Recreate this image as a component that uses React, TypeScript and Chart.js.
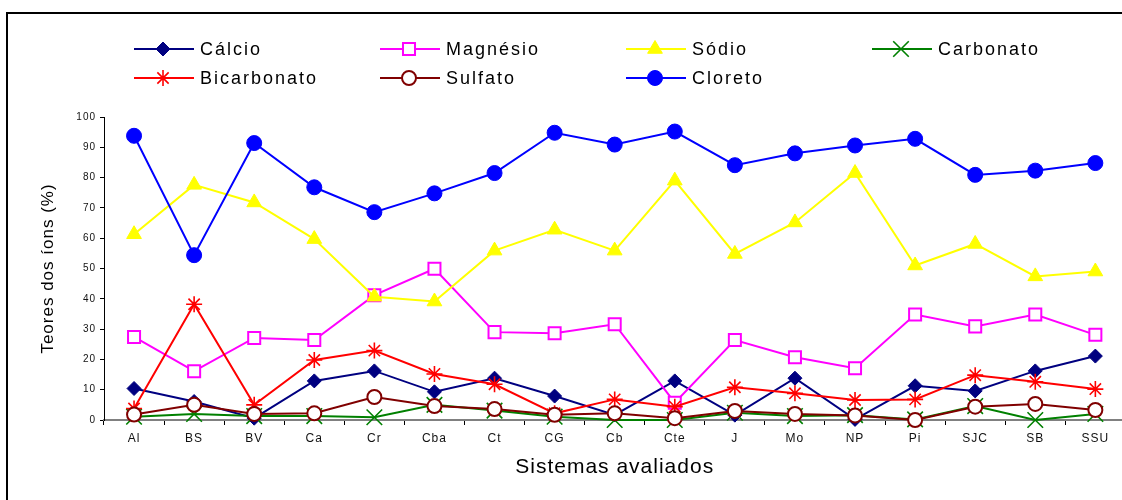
import React, { useEffect, useRef } from "react";
import { Chart, registerables } from "chart.js";
import { drawPoint } from "chart.js/helpers";

Chart.register(...registerables);

const categories = ["Al", "BS", "BV", "Ca", "Cr", "Cba", "Ct", "CG", "Cb", "Cte", "J", "Mo", "NP", "Pi", "SJC", "SB", "SSU"];
const calcio = [10.4, 6.1, 0.6, 12.9, 16.2, 9.3, 13.8, 7.9, 1.7, 12.9, 1.6, 13.8, 0.2, 11.3, 9.6, 16.2, 21.1];
const magnesio = [27.4, 16.1, 27.1, 26.4, 41.2, 49.9, 29.0, 28.6, 31.6, 5.7, 26.4, 20.7, 17.1, 34.8, 30.9, 34.8, 28.1];
const sodio = [61.3, 77.6, 71.8, 59.7, 40.7, 39.1, 55.9, 62.8, 55.9, 79.0, 54.8, 65.2, 81.5, 51.0, 58.1, 47.4, 49.0];
const carbonato = [1.1, 2.0, 1.3, 1.3, 0.9, 5.0, 3.1, 1.1, 0, 0, 2.4, 1.3, 1.6, 0.2, 4.6, 0, 2.0];
const bicarbonato = [3.8, 38.2, 5.0, 19.8, 22.9, 15.2, 11.8, 2.2, 6.8, 4.4, 10.8, 8.8, 6.6, 6.8, 14.8, 12.6, 10.2];
const sulfato = [1.8, 5.0, 2.0, 2.2, 7.6, 4.6, 3.6, 1.7, 2.2, 0.6, 3.0, 2.0, 1.5, 0, 4.4, 5.3, 3.3];
const cloreto = [93.8, 54.4, 91.4, 76.8, 68.6, 74.8, 81.5, 94.8, 90.9, 95.2, 84.1, 88.0, 90.6, 92.8, 80.9, 82.3, 84.8];

const seriesNames = ["Cálcio", "Magnésio", "Sódio", "Carbonato", "Bicarbonato", "Sulfato", "Cloreto"];
const seriesData = [calcio, magnesio, sodio, carbonato, bicarbonato, sulfato, cloreto];
const yTitle = "Teores dos íons (%)";
const xTitle = "Sistemas avaliados";

const styles = [
  { color: "#000080", pointStyle: "rectRot", radius: 7, bg: "#000080", bw: 1 },
  { color: "#FF00FF", pointStyle: "rect", radius: 8.5, bg: "#FFFFFF", bw: 2 },
  { color: "#FFFF00", pointStyle: "triangle", radius: 8.5, bg: "#FFFF00", bw: 1 },
  { color: "#008000", pointStyle: "crossRot", radius: 11, bg: "#008000", bw: 1.6 },
  { color: "#FF0000", pointStyle: "star", radius: 8, bg: "#FF0000", bw: 1.6 },
  { color: "#800000", pointStyle: "circle", radius: 7, bg: "#FFFFFF", bw: 2 },
  { color: "#0000FF", pointStyle: "circle", radius: 7.5, bg: "#0000FF", bw: 1 },
];

const FONT = "'Liberation Sans', Arial, Helvetica, sans-serif";
const CANVAS_W = 1138;

const framePlugin = {
  id: "frame",
  beforeDraw(chart: any) {
    const ctx = chart.ctx;
    ctx.letterSpacing = "1px";
    ctx.save();
    ctx.fillStyle = "#FFFFFF";
    ctx.fillRect(0, 0, chart.width, chart.height);
    ctx.strokeStyle = "#000000";
    ctx.lineWidth = 2;
    ctx.beginPath();
    ctx.moveTo(7, chart.height + 5);
    ctx.lineTo(7, 13);
    ctx.lineTo(chart.width + 5, 13);
    ctx.stroke();
    ctx.restore();
  },
};

const legendPlugin = {
  id: "customLegend",
  afterDraw(chart: any) {
    const ctx = chart.ctx;
    ctx.save();
    ctx.letterSpacing = "2px";
    ctx.font = `18px ${FONT}`;
    ctx.textBaseline = "middle";
    ctx.textAlign = "left";
    chart.data.datasets.forEach((ds: any, i: number) => {
      const col = i % 4;
      const row = Math.floor(i / 4);
      const x0 = 134 + col * 246;
      const y = 49 + row * 29;
      ctx.strokeStyle = ds.borderColor;
      ctx.lineWidth = 2;
      ctx.beginPath();
      ctx.moveTo(x0, y);
      ctx.lineTo(x0 + 60, y);
      ctx.stroke();
      ctx.fillStyle = ds.pointBackgroundColor;
      ctx.strokeStyle = ds.borderColor;
      ctx.lineWidth = ds.pointBorderWidth;
      drawPoint(ctx, { pointStyle: ds.pointStyle, radius: ds.pointRadius, rotation: 0, borderWidth: ds.pointBorderWidth }, x0 + 29, y);
      ctx.fillStyle = "#000000";
      ctx.fillText(ds.label, x0 + 66, y + 1);
    });
    ctx.restore();
  },
};

export default function App() {
  const ref = useRef<HTMLCanvasElement | null>(null);

  useEffect(() => {
    if (!ref.current) return;
    const datasets = seriesNames.map((name, i) => ({
      label: name,
      data: seriesData[i],
      borderColor: styles[i].color,
      backgroundColor: styles[i].bg,
      pointBackgroundColor: styles[i].bg,
      pointBorderColor: styles[i].color,
      pointStyle: styles[i].pointStyle,
      pointRadius: styles[i].radius,
      pointBorderWidth: styles[i].bw,
      borderWidth: 2,
      tension: 0,
      fill: false,
      clip: false,
      order: 6 - i,
    }));
    const chart = new Chart(ref.current, {
      type: "line",
      data: { labels: categories, datasets },
      options: {
        animation: false,
        responsive: false,
        devicePixelRatio: 1,
        layout: { padding: { top: 117, left: 0, right: 0, bottom: 0 } },
        plugins: {
          legend: { display: false },
          title: { display: false },
          tooltip: { enabled: false },
        },
        scales: {
          x: {
            type: "category",
            offset: true,
            afterFit: (scale: any) => {
              scale.height = 80;
            },
            grid: {
              display: true,
              drawOnChartArea: false,
              drawTicks: true,
              tickLength: 5,
              offset: true,
              color: "#000000",
              lineWidth: 1,
            },
            border: { display: true, color: "#808080", width: 2 },
            ticks: {
              color: "#111111",
              font: { family: FONT, size: 12 },
              padding: 6,
              maxRotation: 0,
              autoSkip: false,
            },
            title: {
              display: true,
              text: xTitle,
              color: "#000000",
              font: { family: FONT, size: 21 },
              padding: { top: 0, bottom: 20 },
            },
          },
          y: {
            min: 0,
            max: 100,
            afterFit: (scale: any) => {
              scale.width = 104;
            },
            grid: {
              display: true,
              drawOnChartArea: false,
              drawTicks: true,
              tickLength: 4,
              color: "#000000",
              lineWidth: 1,
            },
            border: { display: true, color: "#000000", width: 1 },
            ticks: {
              stepSize: 10,
              color: "#111111",
              font: { family: FONT, size: 10 },
              padding: 4,
            },
            title: {
              display: true,
              text: yTitle,
              color: "#000000",
              font: { family: FONT, size: 17 },
              padding: { top: 38, bottom: 0 },
            },
          },
        },
      },
      plugins: [framePlugin, legendPlugin],
    });
    return () => chart.destroy();
  }, []);

  return (
    <div style={{ position: "fixed", left: 0, top: 0, width: 1122, height: 500, overflow: "hidden", background: "#fff" }}>
      <canvas ref={ref} width={CANVAS_W} height={500} style={{ width: CANVAS_W, height: 500, display: "block" }} />
    </div>
  );
}
